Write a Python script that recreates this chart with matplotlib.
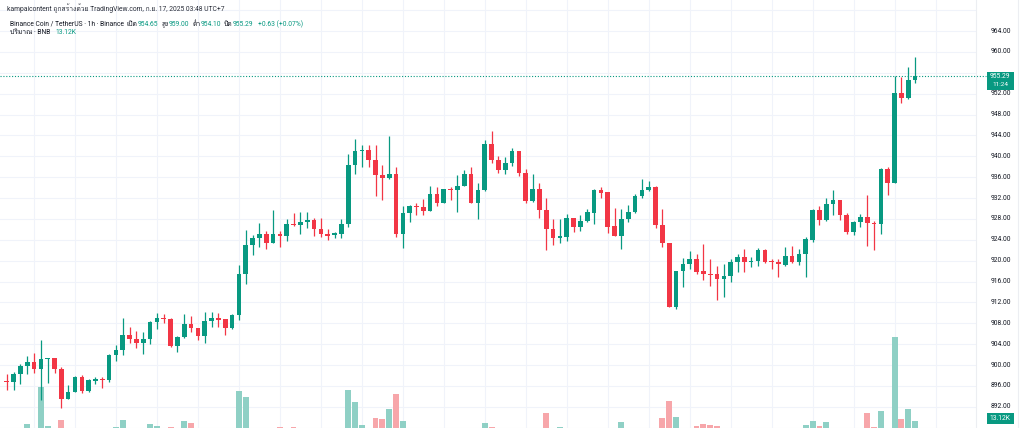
import matplotlib
matplotlib.use("Agg")
import matplotlib.pyplot as plt
from matplotlib import font_manager, transforms
from matplotlib.ft2font import FT2Font
from matplotlib.patches import Rectangle
from matplotlib.lines import Line2D

# ---------------- data (BNB/USDT, 1h candles) ----------------
opens = [897.0, 896.8, 898.3, 899.9, 900.5, 899.3, 901.1, 901.3, 899.3, 893.5,
         894.8, 897.7, 895.0, 897.0, 897.4, 897.1, 901.9, 902.9, 905.7, 905.0,
         904.2, 905.0, 908.2, 909.0, 908.9, 903.7, 905.3, 907.8, 907.1, 905.6,
         908.5, 909.0, 908.8, 907.1, 909.6, 917.5, 923.1, 924.3, 925.1, 923.3,
         925.2, 924.8, 927.0, 926.8, 927.4, 927.7, 926.1, 925.2, 924.9, 925.2,
         927.0, 938.4, 941.0, 941.3, 939.2, 936.4, 935.9, 936.6, 925.2, 929.2,
         930.5, 930.2, 929.6, 932.8, 931.1, 933.7, 933.5, 934.4, 936.6, 931.1,
         933.5, 942.3, 939.2, 937.3, 938.7, 941.0, 936.8, 931.5, 933.7, 929.7,
         926.0, 924.3, 924.6, 928.1, 926.5, 927.6, 929.2, 933.5, 933.1, 926.6,
         924.8, 928.0, 929.4, 932.3, 933.5, 934.2, 926.9, 923.4, 911.1, 918.0,
         919.4, 920.3, 918.0, 917.5, 917.4, 916.5, 917.0, 919.8, 920.8, 919.7,
         920.0, 922.1, 920.0, 919.8, 919.2, 920.9, 919.8, 921.3, 924.0, 929.7,
         927.7, 930.9, 931.6, 928.7, 925.5, 927.4, 928.4, 927.3, 927.1, 937.6,
         934.8, 952.2, 951.2, 954.65]
closes = [896.8, 898.3, 899.9, 900.5, 899.3, 901.1, 901.3, 899.3, 893.5, 894.8,
          897.7, 895.0, 897.1, 897.4, 897.1, 901.9, 902.9, 905.7, 905.0, 904.2,
          905.0, 908.2, 909.0, 908.8, 903.7, 905.3, 907.8, 907.1, 905.6, 908.5,
          909.0, 908.7, 907.1, 909.6, 917.5, 923.1, 924.3, 925.1, 923.3, 925.2,
          924.8, 927.0, 926.8, 927.4, 927.8, 926.0, 925.1, 924.8, 925.3, 927.1,
          938.4, 941.0, 941.3, 939.2, 936.4, 935.9, 936.6, 925.2, 929.2, 930.5,
          930.2, 929.6, 932.8, 931.1, 933.7, 933.5, 934.4, 936.6, 931.1, 933.5,
          942.3, 939.2, 937.3, 938.7, 941.0, 936.8, 931.5, 933.7, 929.7, 926.0,
          924.4, 924.7, 928.1, 926.5, 927.6, 929.4, 933.5, 933.0, 926.5, 924.7,
          928.0, 929.4, 932.3, 933.5, 934.2, 926.8, 923.4, 911.2, 918.0, 919.4,
          920.3, 917.8, 917.5, 917.3, 916.5, 917.1, 919.8, 920.8, 919.7, 920.0,
          922.1, 919.8, 919.8, 919.3, 920.9, 919.8, 921.3, 924.1, 929.7, 927.7,
          930.9, 931.6, 928.7, 925.5, 927.4, 928.4, 927.2, 927.0, 937.6, 934.8,
          952.2, 951.2, 954.66, 955.29]
highs = [898.2, 898.7, 900.3, 901.7, 902.4, 904.8, 901.4, 901.3, 899.6, 896.2,
         897.9, 898.1, 897.3, 897.7, 897.7, 902.1, 903.8, 909.0, 907.3, 906.5,
         906.4, 908.5, 909.9, 909.7, 909.0, 905.6, 909.7, 909.5, 907.2, 910.1,
         910.1, 909.9, 908.9, 909.8, 919.1, 925.8, 924.9, 927.2, 925.7, 929.8,
         925.7, 927.9, 929.2, 929.3, 929.3, 928.2, 928.1, 926.0, 925.5, 927.9,
         940.5, 943.4, 942.1, 942.1, 942.1, 938.4, 943.9, 937.9, 930.5, 930.7,
         931.0, 931.9, 934.3, 934.2, 933.8, 934.2, 936.4, 937.4, 937.9, 934.8,
         943.1, 944.9, 940.1, 939.9, 941.5, 941.1, 937.6, 936.7, 934.9, 932.1,
         928.0, 927.9, 928.9, 928.1, 928.7, 929.9, 933.7, 934.2, 933.1, 930.1,
         929.9, 930.7, 932.8, 935.7, 935.3, 934.3, 929.9, 923.4, 918.1, 920.5,
         921.9, 921.3, 923.2, 920.3, 918.9, 919.4, 920.3, 921.3, 922.2, 920.7,
         922.4, 922.2, 920.3, 920.3, 922.7, 922.8, 922.2, 924.6, 929.9, 930.4,
         932.1, 933.5, 931.6, 929.1, 927.6, 929.0, 932.6, 927.6, 937.8, 937.9,
         955.3, 955.2, 957.1, 959.00]
lows = [895.2, 895.2, 896.3, 898.3, 898.4, 893.3, 896.5, 898.4, 891.8, 893.5,
        894.8, 894.6, 894.9, 896.3, 895.7, 896.8, 900.8, 901.9, 904.2, 903.3,
        902.2, 904.0, 907.0, 908.0, 903.5, 902.6, 905.2, 906.4, 904.9, 904.3,
        907.3, 907.3, 905.8, 907.0, 908.6, 915.6, 921.1, 922.6, 922.2, 923.3,
        922.6, 923.8, 926.6, 925.2, 926.2, 924.8, 924.6, 923.9, 924.3, 924.3,
        926.4, 936.6, 937.9, 937.9, 932.3, 931.6, 935.7, 924.6, 922.4, 927.5,
        928.7, 928.7, 929.6, 930.4, 931.0, 931.6, 929.4, 934.3, 931.0, 928.0,
        933.4, 938.7, 936.8, 936.6, 938.1, 936.2, 931.1, 931.3, 928.2, 922.1,
        923.0, 923.3, 923.8, 925.5, 925.7, 927.4, 927.1, 932.1, 925.4, 924.7,
        922.2, 927.4, 929.2, 932.1, 933.4, 926.2, 922.6, 911.1, 910.8, 914.9,
        918.4, 917.4, 916.3, 915.2, 912.5, 913.0, 915.9, 917.8, 917.8, 918.8,
        919.0, 919.5, 918.4, 916.8, 918.9, 919.5, 919.2, 916.9, 923.6, 926.8,
        927.6, 928.7, 927.7, 925.2, 924.9, 926.5, 922.8, 922.1, 925.2, 932.6,
        934.8, 950.3, 951.0, 954.10]
volumes_k = [3.2, 2.8, 3.5, 9.3, 3.9, 51.9, 7.5, 3.6, 13.9, 4.1,
             3.3, 3.8, 2.9, 2.6, 3.0, 4.2, 6.2, 13.9, 4.0, 3.4,
             3.1, 9.3, 7.0, 3.0, 6.2, 3.7, 12.8, 11.0, 3.9, 4.3,
             3.2, 2.7, 3.6, 4.0, 47.9, 41.0, 4.4, 3.8, 4.1, 4.5,
             6.2, 3.5, 6.2, 3.3, 2.9, 3.6, 3.1, 2.8, 2.5, 4.0,
             48.8, 35.2, 8.5, 4.4, 16.6, 14.7, 26.4, 43.8, 12.8, 4.2,
             3.0, 3.4, 4.3, 3.6, 3.8, 2.9, 4.1, 3.9, 4.5, 4.0,
             10.8, 6.2, 3.7, 3.1, 3.4, 4.2, 4.4, 3.5, 4.0, 22.4,
             4.3, 6.2, 3.9, 3.0, 2.8, 3.2, 4.4, 2.7, 4.5, 3.6,
             12.0, 3.4, 3.8, 3.5, 2.9, 4.4, 15.9, 36.3, 17.1, 4.3,
             3.8, 7.5, 8.9, 7.8, 7.0, 4.2, 3.9, 3.1, 3.3, 2.6,
             3.5, 3.2, 2.8, 3.0, 3.7, 3.3, 3.6, 7.8, 12.8, 7.0,
             12.0, 4.3, 4.1, 4.4, 3.6, 3.2, 22.4, 6.2, 24.4, 4.5,
             110.6, 15.4, 27.1, 13.12]
price_ticks = [892, 896, 900, 904, 908, 912, 916, 920, 924, 928, 932,
               936, 940, 944, 948, 952, 960, 964]
last_price = 955.29
countdown = "11:24"
last_volume_label = "13.12K"

header_line1 = "kampaicontent ถูกสร้างด้วย TradingView.com, ก.ย. 17, 2025 03:48 UTC+7"
symbol_title = "Binance Coin / TetherUS · 1h · Binance"
ohlc_labels = ["เปิด", "สูง", "ต่ำ", "ปิด"]
ohlc_values = ["954.65", "959.00", "954.10", "955.29"]
change_text = "+0.63 (+0.07%)"
volume_title = "ปริมาณ · BNB"

# ---------------- style ----------------
UP = "#089981"
DOWN = "#F23645"
UP_VOL = "#8fd0c5"
DOWN_VOL = "#f7a6aa"
GRID = "#f0f3fa"
TEXT = "#131722"

W, H = 1024, 428
PLOT_R = 976          # right edge of the candle pane (px)
X0, DX = 6.7, 6.83     # first candle centre and spacing (px)
Y_TOP_PRICE = 969.94
Y_BOT_PRICE = 887.95


def find_thai_font():
    seen = set()
    test = "ถูกสร้างด้วยปริมาณเปิดสูงต่ำ"
    for f in font_manager.fontManager.ttflist:
        if f.fname in seen:
            continue
        seen.add(f.fname)
        try:
            cm = FT2Font(f.fname).get_charmap()
        except Exception:
            continue
        if all(ord(ch) in cm for ch in test):
            return f.name
    return None


thai = find_thai_font()
families = ["Roboto"] + ([thai] if thai else []) + ["DejaVu Sans"]
plt.rcParams["font.family"] = families

fig = plt.figure(figsize=(W / 100, H / 100), dpi=100)
fig.patch.set_facecolor("white")

rect = [0, 0, PLOT_R / W, 1]
xmin = -X0 / DX
xmax = (PLOT_R - X0) / DX

gax = fig.add_axes(rect, zorder=0)
vax = fig.add_axes(rect, zorder=1)
ax = fig.add_axes(rect, zorder=2)
for a in (gax, vax, ax):
    a.set_xlim(xmin, xmax)
    a.axis("off")
    a.patch.set_visible(False)
gax.set_ylim(Y_BOT_PRICE, Y_TOP_PRICE)
ax.set_ylim(Y_BOT_PRICE, Y_TOP_PRICE)

# grid
for p in range(888, 972, 4):
    gax.axhline(p, color=GRID, lw=0.8)
for i in range(4, 142, 6):
    gax.axvline(i, color=GRID, lw=0.8)

n = len(opens)
xs = list(range(n))
colors = [UP if c >= o else DOWN for o, c in zip(opens, closes)]
vcolors = [UP_VOL if c >= o else DOWN_VOL for o, c in zip(opens, closes)]

# volume pane (base lies just below the visible bottom edge)
vax.set_ylim(4.64, 501.6)
vax.bar(xs, volumes_k, width=0.86, color=vcolors, linewidth=0)

# candles
ax.vlines(xs, lows, highs, colors=colors, linewidth=0.9)
bottoms = [min(o, c) for o, c in zip(opens, closes)]
heights = [max(abs(c - o), 0.22) for o, c in zip(opens, closes)]
ax.bar(xs, heights, bottom=bottoms, width=0.68, color=colors, linewidth=0)

# last price dotted line
ytr = transforms.blended_transform_factory(fig.transFigure, ax.transData)
fig.add_artist(Line2D([0, 986 / W], [last_price, last_price], transform=ytr,
                      color=UP, lw=0.8, linestyle=(0, (1, 1.6))))

# pane separators
fig.add_artist(Line2D([PLOT_R / W] * 2, [0, 1], transform=fig.transFigure,
                      color="#eceef2", lw=0.8))
fig.add_artist(Line2D([1018 / W] * 2, [0, 1], transform=fig.transFigure,
                      color="#eceef2", lw=0.8))

# price scale labels
for p in price_ticks:
    fig.text(990.5 / W, p, f"{p:.2f}", transform=ytr, fontsize=4.9,
             color=TEXT, ha="left", va="center")

# last price tag
fig.add_artist(Rectangle((986.7 / W, (H - 89.5) / H), 26.8 / W, 17.0 / H,
                         transform=fig.transFigure, facecolor=UP,
                         edgecolor="none", zorder=5))
fig.text(1000 / W, (H - 77.0) / H, f"{last_price:.2f}", fontsize=4.9,
         color="white", ha="center", va="center", zorder=6)
fig.text(1000 / W, (H - 85.0) / H, countdown, fontsize=4.6,
         color="white", ha="center", va="center", zorder=6)

# volume tag
fig.add_artist(Rectangle((986.7 / W, (H - 423.5) / H), 26.8 / W, 11.0 / H,
                         transform=fig.transFigure, facecolor=UP,
                         edgecolor="none", zorder=5))
fig.text(1000 / W, (H - 418.0) / H, last_volume_label, fontsize=4.9,
         color="white", ha="center", va="center", zorder=6)

# header / legend (laid out left to right using measured text widths)
fig.canvas.draw()
renderer = fig.canvas.get_renderer()


def seq(items, x, y, size):
    for s, color, gap in items:
        t = fig.text(x / W, (H - y) / H, s, fontsize=size, color=color,
                     ha="left", va="center")
        bb = t.get_window_extent(renderer=renderer)
        x = bb.x1 + gap


seq([(header_line1, "#2a2e39", 0)], 7, 8, 4.9)

line2 = [(symbol_title, TEXT, 2.5)]
for lab, val in zip(ohlc_labels, ohlc_values):
    line2.append((lab, TEXT, 0.3))
    line2.append((val, UP, 3.0))
line2[-1] = (line2[-1][0], UP, 4.5)
line2.append((change_text, UP, 0))
seq(line2, 10, 24, 4.85)

seq([(volume_title, TEXT, 5.0), (last_volume_label, UP, 0)], 10, 33, 4.85)

fig.savefig("out.png", dpi=100, facecolor="white")
